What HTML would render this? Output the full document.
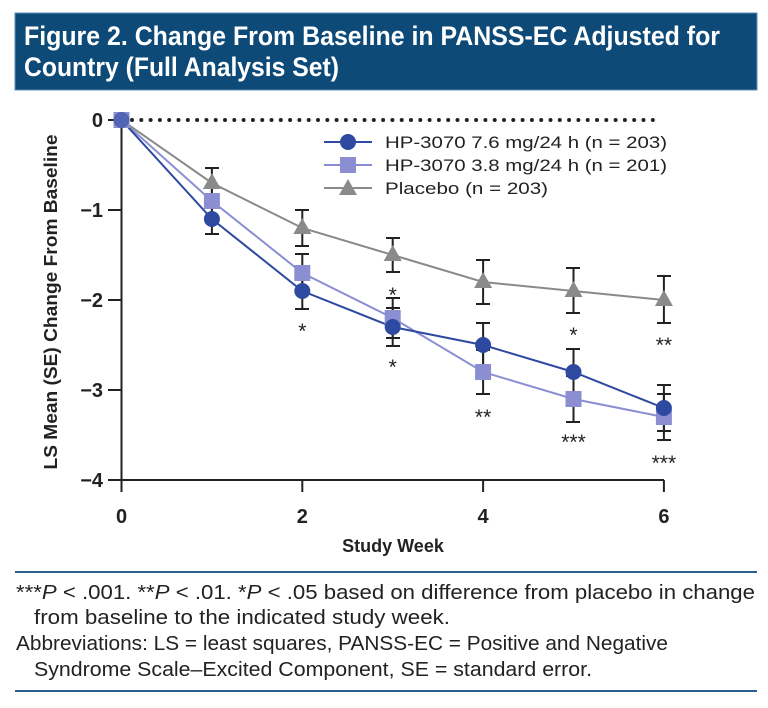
<!DOCTYPE html>
<html><head><meta charset="utf-8"><style>
html,body{margin:0;padding:0;background:#fff;}
svg{display:block;}
text{font-family:"Liberation Sans",sans-serif;}
.n{font-family:"Liberation Sans Narrow","Liberation Sans",sans-serif;}
</style></head><body>
<svg width="768" height="708" viewBox="0 0 768 708" xmlns="http://www.w3.org/2000/svg">
<rect x="15" y="13" width="742" height="77" fill="#0e4a78" stroke="#5f8fb5" stroke-width="1"/>
<text class="n" x="24" y="45" font-size="27" font-weight="bold" fill="#fff" textLength="696" lengthAdjust="spacingAndGlyphs">Figure 2. Change From Baseline in PANSS-EC Adjusted for</text>
<text class="n" x="24" y="76" font-size="27" font-weight="bold" fill="#fff" textLength="315" lengthAdjust="spacingAndGlyphs">Country (Full Analysis Set)</text>

<g stroke="#222" stroke-width="2" fill="none">
<line x1="121.5" y1="120" x2="121.5" y2="492"/>
<line x1="108" y1="480" x2="664" y2="480"/>
<line x1="108" y1="120" x2="121" y2="120"/>
<line x1="108" y1="210" x2="121" y2="210"/>
<line x1="108" y1="300" x2="121" y2="300"/>
<line x1="108" y1="390" x2="121" y2="390"/>
<line x1="302.3" y1="480" x2="302.3" y2="492"/>
<line x1="483.1" y1="480" x2="483.1" y2="492"/>
<line x1="663.9" y1="480" x2="663.9" y2="492"/>
</g>
<line x1="132" y1="120" x2="660" y2="120" stroke="#222" stroke-width="4" stroke-dasharray="0 9.3" stroke-linecap="round"/>
<g font-size="20" font-weight="bold" fill="#222" text-anchor="end">
<text x="103" y="127">0</text>
<text x="103" y="217">−1</text>
<text x="103" y="307">−2</text>
<text x="103" y="397">−3</text>
<text x="103" y="487">−4</text>
</g>
<g font-size="20" font-weight="bold" fill="#222" text-anchor="middle">
<text x="121.5" y="523">0</text>
<text x="302.3" y="523">2</text>
<text x="483.1" y="523">4</text>
<text x="663.9" y="523">6</text>
<text x="393" y="552" font-size="18">Study Week</text>
</g>
<text transform="translate(57,302) rotate(-90)" font-size="18" font-weight="bold" fill="#222" text-anchor="middle" textLength="335" lengthAdjust="spacingAndGlyphs">LS Mean (SE) Change From Baseline</text>

<g stroke="#222" stroke-width="2" fill="none">
<path d="M211.9 168V198M205 168H219M205 198H219
M302.3 210V246M295 210H309M295 246H309
M392.7 238V272M386 238H400M386 272H400
M483.1 260V304M476 260H490M476 304H490
M573.5 268V313M566 268H580M566 313H580
M663.9 276V323M657 276H671M657 323H671"/>
<path d="M211.9 204V234M205 204H219M205 234H219
M302.3 273V309M295 273H309M295 309H309
M392.7 308V346M386 308H400M386 346H400
M483.1 323V367M476 323H490M476 367H490
M573.5 349V395M566 349H580M566 395H580
M663.9 385V431M657 385H671M657 431H671"/>
<path d="M211.9 186V216M205 186H219M205 216H219
M302.3 254V292M295 254H309M295 292H309
M392.7 298V338M386 298H400M386 338H400
M483.1 350V394M476 350H490M476 394H490
M573.5 376V422M566 376H580M566 422H580
M663.9 394V440M657 394H671M657 440H671"/>
</g>
<polyline points="121.5,120 211.9,183 302.3,228 392.7,255 483.1,282 573.5,291 663.9,300" fill="none" stroke="#8a8a8a" stroke-width="2"/>
<polyline points="121.5,120 211.9,201 302.3,273 392.7,318 483.1,372 573.5,399 663.9,417" fill="none" stroke="#8b8fd2" stroke-width="2"/>
<polyline points="121.5,120 211.9,219 302.3,291 392.7,327 483.1,345 573.5,372 663.9,408" fill="none" stroke="#2d4aa0" stroke-width="2"/>
<g fill="#8a8a8a">
<path d="M211.9 173l9 16h-18z"/><path d="M302.3 218l9 16h-18z"/><path d="M392.7 245l9 16h-18z"/>
<path d="M483.1 272l9 16h-18z"/><path d="M573.5 281l9 16h-18z"/><path d="M663.9 290l9 16h-18z"/>
</g>
<g fill="#8b8fd2">
<rect x="113.5" y="112" width="16" height="16"/>
<rect x="203.9" y="193" width="16" height="16"/><rect x="294.3" y="265" width="16" height="16"/>
<rect x="384.7" y="310" width="16" height="16"/><rect x="475.1" y="364" width="16" height="16"/>
<rect x="565.5" y="391" width="16" height="16"/><rect x="655.9" y="409" width="16" height="16"/>
</g>
<g fill="#2d4aa0">
<circle cx="121.5" cy="120" r="8" opacity="0.6"/>
<circle cx="211.9" cy="219" r="8"/><circle cx="302.3" cy="291" r="8"/><circle cx="392.7" cy="327" r="8"/>
<circle cx="483.1" cy="345" r="8"/><circle cx="573.5" cy="372" r="8"/><circle cx="663.9" cy="408" r="8"/>
</g>
<g font-size="21" fill="#222" text-anchor="middle">
<text x="302.3" y="338">*</text>
<text x="392.7" y="302">*</text>
<text x="392.7" y="374">*</text>
<text x="483.1" y="424">**</text>
<text x="573.5" y="342">*</text>
<text x="573.5" y="449">***</text>
<text x="663.9" y="352">**</text>
<text x="663.9" y="470">***</text>
</g>
<line x1="324" y1="142" x2="372" y2="142" stroke="#2d4aa0" stroke-width="2"/>
<circle cx="348" cy="142" r="8" fill="#2d4aa0"/>
<line x1="324" y1="165" x2="372" y2="165" stroke="#8b8fd2" stroke-width="2"/>
<rect x="340" y="157" width="16" height="16" fill="#8b8fd2"/>
<line x1="324" y1="188" x2="372" y2="188" stroke="#8a8a8a" stroke-width="2"/>
<path d="M348 179l9 16h-18z" fill="#8a8a8a"/>
<g font-size="17" fill="#222">
<text x="385" y="148" textLength="282" lengthAdjust="spacingAndGlyphs">HP-3070 7.6 mg/24 h (n = 203)</text>
<text x="385" y="171" textLength="282" lengthAdjust="spacingAndGlyphs">HP-3070 3.8 mg/24 h (n = 201)</text>
<text x="385" y="194" textLength="163" lengthAdjust="spacingAndGlyphs">Placebo (n = 203)</text>
</g>

<line x1="15" y1="572" x2="757" y2="572" stroke="#2a5f8f" stroke-width="2"/>
<line x1="15" y1="691" x2="757" y2="691" stroke="#2a5f8f" stroke-width="2"/>
<g font-size="20" fill="#222">
<text class="n" x="16" y="599" textLength="739" lengthAdjust="spacingAndGlyphs">***<tspan font-style="italic">P</tspan> &lt; .001.   **<tspan font-style="italic">P</tspan> &lt; .01.   *<tspan font-style="italic">P</tspan> &lt; .05 based on difference from placebo in change</text>
<text class="n" x="34" y="624" textLength="416" lengthAdjust="spacingAndGlyphs">from baseline to the indicated study week.</text>
<text class="n" x="16" y="650" textLength="652" lengthAdjust="spacingAndGlyphs">Abbreviations: LS = least squares, PANSS-EC = Positive and Negative</text>
<text class="n" x="34" y="676" textLength="558" lengthAdjust="spacingAndGlyphs">Syndrome Scale–Excited Component, SE = standard error.</text>
</g>
</svg>
</body></html>
